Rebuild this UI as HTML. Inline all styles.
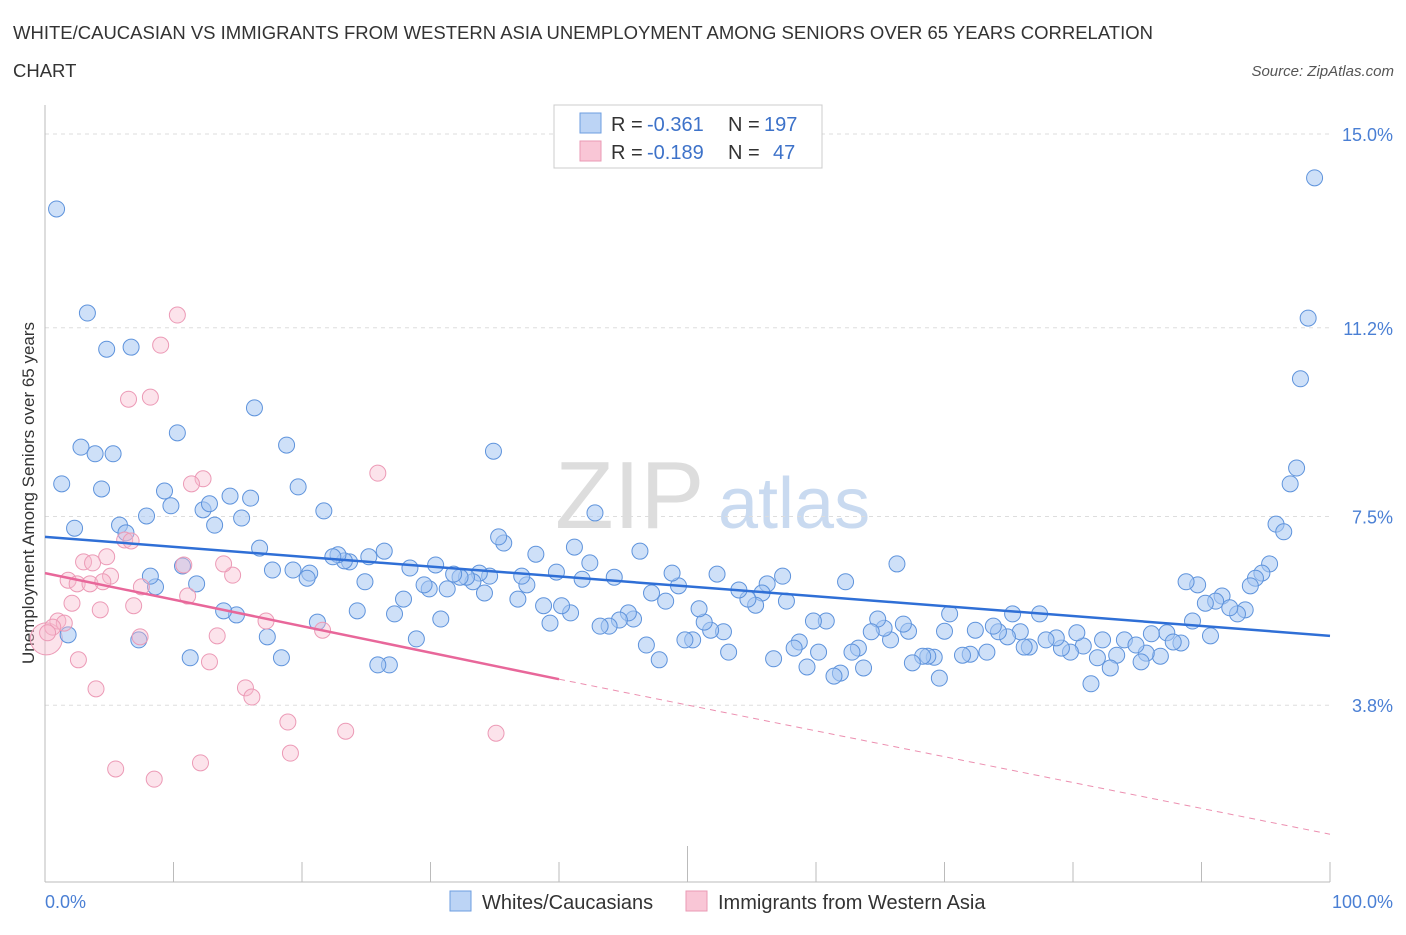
<!DOCTYPE html>
<html><head><meta charset="utf-8"><style>
body{margin:0;background:#fff;font-family:"Liberation Sans",sans-serif;}
svg text{font-family:"Liberation Sans",sans-serif;}
</style></head><body>
<svg id="chart" width="1406" height="930" xmlns="http://www.w3.org/2000/svg">
<text x="13" y="39" font-size="18.5" fill="#333">WHITE/CAUCASIAN VS IMMIGRANTS FROM WESTERN ASIA UNEMPLOYMENT AMONG SENIORS OVER 65 YEARS CORRELATION</text>
<text x="13" y="77" font-size="18.5" fill="#333">CHART</text>
<text x="1394" y="76" font-size="15" fill="#555" font-style="italic" text-anchor="end">Source: ZipAtlas.com</text>
<text transform="translate(34,493) rotate(-90)" font-size="17" fill="#333" text-anchor="middle">Unemployment Among Seniors over 65 years</text>
<g>
<text x="555" y="528" font-size="96" fill="#ddd" font-family="Liberation Serif,serif">ZIP</text>
<text x="718" y="528" font-size="72" fill="#c9daf0">atlas</text>
</g>
<g id="grid"></g>
<g id="axes"></g>
<g id="marks"></g>
<g>
<rect x="554" y="105" width="268" height="63" fill="#fff" stroke="#ccc"/>
<rect x="580" y="113" width="21" height="20" fill="#bcd4f5" stroke="#6d9ee0"/>
<rect x="580" y="141" width="21" height="20" fill="#f9c6d6" stroke="#ea9ab4"/>
<text x="611" y="131" font-size="20" fill="#333">R =</text>
<text x="647" y="131" font-size="20" fill="#3d72c9">-0.361</text>
<text x="728" y="131" font-size="20" fill="#333">N =</text>
<text x="764" y="131" font-size="20" fill="#3d72c9">197</text>
<text x="611" y="159" font-size="20" fill="#333">R =</text>
<text x="647" y="159" font-size="20" fill="#3d72c9">-0.189</text>
<text x="728" y="159" font-size="20" fill="#333">N =</text>
<text x="773" y="159" font-size="20" fill="#3d72c9">47</text>
</g>
<g>
<rect x="450" y="891" width="21" height="20" fill="#bcd4f5" stroke="#6d9ee0"/>
<text x="482" y="909" font-size="20" fill="#333">Whites/Caucasians</text>
<rect x="686" y="891" width="21" height="20" fill="#f9c6d6" stroke="#ea9ab4"/>
<text x="718" y="909" font-size="20" fill="#333">Immigrants from Western Asia</text>
</g>
</svg>
<script>
const yTicks=[15.0,11.2,7.5,3.8];
const yTickLabels=["15.0%","11.2%","7.5%","3.8%"];
const xTickLabels=["0.0%","100.0%"];
const blueX=[0.9,3.3,4.8,6.7,1.3,2.8,3.9,5.3,4.4,2.3,10.3,16.3,18.8,34.9,19.7,9.3,9.8,7.9,5.8,12.3,12.8,14.4,16.0,13.2,15.3,21.7,42.8,98.8,98.3,97.7,97.4,96.9,95.8,96.4,95.3,94.7,94.2,93.8,91.6,91.1,93.4,92.8,92.2,89.3,90.7,89.7,88.8,90.3,88.4,87.3,86.8,87.8,86.1,85.7,85.3,84.0,84.9,83.4,82.9,82.3,81.9,81.4,80.8,80.3,79.8,79.1,78.7,77.9,77.4,76.6,76.2,75.9,75.3,74.9,74.2,73.8,73.3,72.4,72.0,71.4,70.4,70.0,69.6,69.2,68.7,68.3,67.5,67.2,66.8,66.3,65.8,65.3,64.8,64.3,63.7,63.3,62.8,62.3,61.9,61.4,60.8,60.2,59.8,59.3,58.7,58.3,57.7,57.4,56.7,56.2,55.8,55.3,54.7,54.0,53.2,52.8,52.3,51.8,51.3,50.9,50.4,49.8,49.3,48.8,48.3,47.8,47.2,46.8,46.3,45.8,45.4,44.7,44.3,43.9,43.2,42.4,41.8,41.2,40.9,40.2,39.8,39.3,38.8,38.2,37.5,37.1,36.8,35.7,35.3,34.6,34.2,33.8,33.3,32.8,32.3,31.8,31.3,30.8,30.4,29.9,29.5,28.9,28.4,27.9,27.2,26.8,26.4,25.9,25.2,24.9,24.3,23.7,23.3,22.8,22.4,21.2,20.6,20.4,19.3,18.4,17.7,17.3,16.7,14.9,13.9,11.8,11.3,10.7,8.6,8.2,7.3,1.8,6.3];
const blueY=[13.53,11.49,10.78,10.82,8.14,8.86,8.73,8.73,8.04,7.27,9.14,9.63,8.90,8.78,8.08,8.00,7.71,7.51,7.33,7.63,7.75,7.90,7.86,7.33,7.47,7.61,7.57,14.14,11.39,10.2,8.45,8.14,7.35,7.2,6.57,6.39,6.29,6.14,5.94,5.84,5.67,5.59,5.71,5.45,5.16,6.16,6.22,5.80,5.02,5.22,4.76,5.04,5.2,4.82,4.65,5.08,4.98,4.78,4.53,5.08,4.73,4.22,4.96,5.22,4.84,4.92,5.12,5.08,5.59,4.94,4.94,5.24,5.59,5.14,5.24,5.35,4.84,5.27,4.8,4.78,5.59,5.25,4.33,4.74,4.76,4.76,4.63,5.25,5.39,6.57,5.08,5.31,5.49,5.24,4.53,4.92,4.84,6.22,4.43,4.37,5.45,4.84,5.45,4.55,5.04,4.92,5.84,6.33,4.71,6.18,6.0,5.76,5.88,6.06,4.84,5.24,6.37,5.27,5.43,5.69,5.08,5.08,6.14,6.39,5.84,4.69,6.0,4.98,6.82,5.49,5.61,5.47,6.31,5.35,5.35,6.59,6.27,6.9,5.61,5.75,6.41,5.41,5.75,6.76,6.16,6.33,5.88,6.98,7.1,6.33,6.0,6.39,6.22,6.31,6.31,6.37,6.08,5.49,6.55,6.08,6.16,5.1,6.49,5.88,5.59,4.59,6.82,4.59,6.71,6.22,5.65,6.61,6.63,6.75,6.71,5.43,6.39,6.29,6.45,4.73,6.45,5.14,6.88,5.57,5.65,6.18,4.73,6.53,6.12,6.33,5.08,5.18,7.18];
const pinkX=[10.3,9.0,8.2,6.5,25.9,12.3,11.4,6.2,6.7,4.8,3.0,3.7,5.1,14.6,13.9,10.8,1.8,2.5,3.5,4.5,7.5,11.1,2.1,4.3,6.9,17.2,1.0,1.5,0.6,0.2,21.6,13.4,7.4,2.6,12.8,15.6,16.1,3.97,18.9,23.4,35.1,19.1,12.1,5.5,8.5];
const pinkY=[11.45,10.86,9.84,9.80,8.35,8.24,8.14,7.04,7.02,6.71,6.61,6.59,6.33,6.35,6.57,6.55,6.25,6.18,6.18,6.22,6.12,5.94,5.8,5.67,5.75,5.45,5.45,5.41,5.33,5.22,5.27,5.16,5.14,4.69,4.65,4.14,3.96,4.12,3.47,3.29,3.25,2.86,2.67,2.55,2.35];
const pinkBlob=[0.1,5.1];
const blueTrend=[7.10,5.16];   // y at x=0 and x=100
const pinkTrend=[6.39,4.31,1.27]; // y at x=0, 40, 100
const X=v=>45+v*12.85, Y=v=>134+(15-v)*51;
const NS="http://www.w3.org/2000/svg";
function mk(parent,tag,attrs){const e=document.createElementNS(NS,tag);for(const k in attrs)e.setAttribute(k,attrs[k]);document.getElementById(parent).appendChild(e);return e;}
yTicks.forEach((t,i)=>{
  const l=mk('grid','line',{x1:45,x2:1330,y1:Y(t),y2:Y(t),stroke:'#ddd','stroke-dasharray':'4,4'});
  
  
  const tx=mk('grid','text',{x:1393,y:Y(t)+7,'font-size':18,fill:'#4a7fd4','text-anchor':'end'});
  tx.textContent=yTickLabels[i];
  
  
});
const ax=mk('axes','line',{x1:45,x2:45,y1:105,y2:882,stroke:'#bbb'});


const bx=mk('axes','line',{x1:45,x2:1330,y1:882,y2:882,stroke:'#bbb'});


for(let i=0;i<=10;i++){
  const t=mk('axes','line',{x1:X(i*10),x2:X(i*10),y1:i==5?846:862,y2:882,stroke:'#bbb'});
  
  
}
[[0,'start',45],[1,'end',1393]].forEach(([i,a,x])=>{
  const t=mk('axes','text',{x:x,y:908,'font-size':18,fill:'#4a7fd4','text-anchor':a});
  t.textContent=xTickLabels[i];
  
  
});
const blob=mk('marks','circle',{cx:X(pinkBlob[0]),cy:Y(pinkBlob[1]),r:16,fill:'rgba(247,185,205,0.4)',stroke:'#ec9ab6','stroke-width':1});


blueX.forEach((x,i)=>{
  const c=mk('marks','circle',{cx:X(x),cy:Y(blueY[i]),r:8,fill:'rgba(165,198,242,0.55)',stroke:'#5e93dc','stroke-width':1});
  
  
});
pinkX.forEach((x,i)=>{
  const c=mk('marks','circle',{cx:X(x),cy:Y(pinkY[i]),r:8,fill:'rgba(247,185,205,0.4)',stroke:'#ec9ab6','stroke-width':1});
  
  
});
const bt=mk('marks','line',{x1:X(0),y1:Y(blueTrend[0]),x2:X(100),y2:Y(blueTrend[1]),stroke:'#2f6fd6','stroke-width':2.5});


const pt=mk('marks','line',{x1:X(0),y1:Y(pinkTrend[0]),x2:X(40),y2:Y(pinkTrend[1]),stroke:'#e8679a','stroke-width':2.5});


const pd=mk('marks','line',{x1:X(40),y1:Y(pinkTrend[1]),x2:X(100),y2:Y(pinkTrend[2]),stroke:'#ec8fb0','stroke-width':1,'stroke-dasharray':'6,5'});


</script>
</body></html>
